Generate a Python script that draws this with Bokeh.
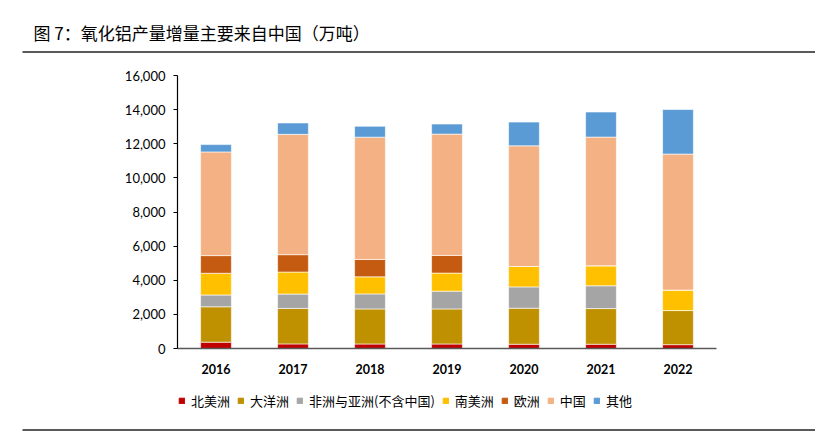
from bokeh.plotting import figure
from bokeh.layouts import column
from bokeh.models import (FactorRange, Range1d, FixedTicker, NumeralTickFormatter,
                          Legend, LegendItem)
from bokeh.core.properties import value
from bokeh.embed import file_html
from bokeh.resources import INLINE

years = ["2016", "2017", "2018", "2019", "2020", "2021", "2022"]
series_names = ["北美洲", "大洋洲", "非洲与亚洲(不含中国)", "南美洲", "欧洲", "中国", "其他"]
north_america = [370, 270, 265, 265, 250, 250, 225]
oceania = [2075, 2080, 2055, 2055, 2110, 2090, 2000]
africa_asia = [690, 840, 880, 1040, 1250, 1335, 0]
south_america = [1275, 1290, 1000, 1060, 1195, 1175, 1200]
europe = [1035, 1020, 1015, 1035, 0, 0, 0]
china = [6075, 7050, 7170, 7110, 7075, 7540, 7970]
other = [430, 670, 640, 590, 1390, 1470, 2610]
colors = ["#C00000", "#BF9000", "#A5A5A5", "#FFC000", "#C55A11", "#F4B183", "#5B9BD5"]
y_ticks = [0, 2000, 4000, 6000, 8000, 10000, 12000, 14000, 16000]
title_text = "图 7：氧化铝产量增量主要来自中国（万吨）"

keys = ["na", "oc", "aa", "sa", "eu", "cn", "ot"]
data = dict(x=years, na=north_america, oc=oceania, aa=africa_asia, sa=south_america,
            eu=europe, cn=china, ot=other)

W = 815
RULE = "#595959"


def blank(h):
    f = figure(width=W, height=h, x_range=Range1d(0, W), y_range=Range1d(0, h),
               output_backend="svg", toolbar_location=None,
               x_axis_location=None, y_axis_location=None,
               min_border=0, min_border_left=0, min_border_right=0,
               min_border_top=0, min_border_bottom=0, frame_align=False)
    f.outline_line_color = None
    f.xgrid.grid_line_color = None
    f.ygrid.grid_line_color = None
    return f


# header: title and top rule
HH = 56
header = blank(HH)
header.text(x=[33], y=[HH - 32], text=[title_text], text_font=value("Noto Sans CJK SC"),
            text_font_size="17px", text_color="#000000", text_baseline="middle")
header.segment(x0=[22], y0=[HH - 51.5], x1=[W], y1=[HH - 51.5],
               line_color=RULE, line_width=1.8)

# main chart
MH = 324
p = figure(width=W, height=MH, x_range=FactorRange(*years, range_padding=0),
           y_range=Range1d(0, 16000), output_backend="svg", toolbar_location=None,
           min_border_left=177, min_border_right=W - 716, min_border_top=19,
           min_border_bottom=32, frame_align=False)
p.outline_line_color = None
p.xgrid.grid_line_color = None
p.ygrid.grid_line_color = None

rs = p.vbar_stack(keys, x="x", width=0.4, source=data, color=colors,
                  line_color="white", line_width=0.6)

p.yaxis.ticker = FixedTicker(ticks=y_ticks)
p.yaxis.formatter = NumeralTickFormatter(format="0,0")
p.yaxis.major_label_text_font = "Lato"
p.yaxis.major_label_text_font_size = "13px"
p.yaxis.major_label_text_color = "#000000"
p.yaxis.axis_line_color = "#000000"
p.yaxis.axis_line_width = 1.2
p.yaxis.major_tick_out = 4
p.yaxis.major_tick_in = 0
p.yaxis.minor_tick_line_color = None
p.yaxis.major_tick_line_color = "#000000"
p.yaxis.major_label_standoff = 8

p.xaxis.major_label_text_font = "Lato"
p.xaxis.major_label_text_font_style = "bold"
p.xaxis.major_label_text_font_size = "12.5px"
p.xaxis.major_label_text_color = "#000000"
p.xaxis.axis_line_color = RULE
p.xaxis.axis_line_width = 1.5
p.xaxis.major_tick_line_color = None
p.xaxis.minor_tick_line_color = None
p.xaxis.major_label_standoff = 9

# footer: legend and bottom rule (swatches are off-screen stand-ins for the legend)
FH = 60
footer = blank(FH)
swatches = [footer.vbar(x=[-100], top=[-100], bottom=[-110], width=1, color=c) for c in colors]
items = [LegendItem(label=n, renderers=[r]) for n, r in zip(series_names, swatches)]
legend = Legend(items=items, orientation="horizontal", location=(178, 30),
                glyph_width=7, glyph_height=7, label_standoff=6, spacing=7,
                padding=0, margin=0, border_line_color=None, background_fill_alpha=0,
                label_text_font="Noto Sans CJK SC", label_text_font_size="13px",
                label_text_color="#000000", label_height=16)
footer.add_layout(legend, "center")
footer.segment(x0=[22], y0=[FH - 49.5], x1=[W], y1=[FH - 49.5],
               line_color=RULE, line_width=1.8)

layout = column(header, p, footer, spacing=0)
open("out.html", "w").write(file_html(layout, INLINE))
